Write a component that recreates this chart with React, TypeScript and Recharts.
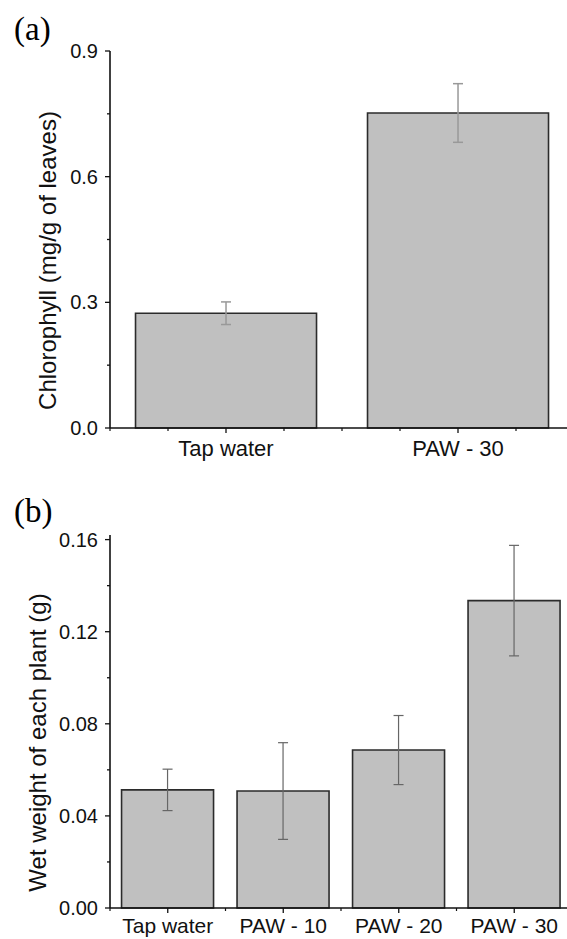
import { Bar, BarChart, ErrorBar, Label, XAxis, YAxis } from 'recharts'

// panel (a) – chlorophyll
const categoriesA = ['Tap water', 'PAW - 30']
const chlorophyll = [0.274, 0.752]
const chlorophyllErr = [0.027, 0.07]
const ticksA = [0, 0.15, 0.3, 0.45, 0.6, 0.75, 0.9]
const majorTicksA = [0, 0.3, 0.6, 0.9]

// panel (b) – wet weight
const categoriesB = ['Tap water', 'PAW - 10', 'PAW - 20', 'PAW - 30']
const wetWeight = [0.0513, 0.0508, 0.0686, 0.1335]
const wetWeightErr = [0.009, 0.021, 0.015, 0.024]
const ticksB = [0, 0.02, 0.04, 0.06, 0.08, 0.1, 0.12, 0.14, 0.16]
const majorTicksB = [0, 0.04, 0.08, 0.12, 0.16]

const dataA = categoriesA.map((name, i) => ({ name, value: chlorophyll[i], err: chlorophyllErr[i] }))
const dataB = categoriesB.map((name, i) => ({ name, value: wetWeight[i], err: wetWeightErr[i] }))

const FONT = '"Liberation Sans", Arial, sans-serif'
const INK = '#111'

// plot widths, so the minor x ticks can sit between the category centres
const PLOT_W_A = 464
const PLOT_W_B = 462

function ValueTick({ x, y, payload, majors, digits }: any) {
  const major = majors.some((m: number) => Math.abs(m - payload.value) < 1e-9)
  return (
    <g>
      <line x1={x} x2={x - (major ? 5 : 3)} y1={y} y2={y} stroke={INK} strokeWidth={1.3} />
      {major && (
        <text x={x - 12} y={y} textAnchor='end' dominantBaseline='central' fontSize={20} fontFamily={FONT} fill={INK}>
          {payload.value.toFixed(digits)}
        </text>
      )}
    </g>
  )
}

function CategoryTick({ x, y, payload, band, quarters, labelY, size }: any) {
  const minors = quarters ? [-band / 2, -band / 4, band / 4] : [-band / 2]
  return (
    <g>
      <line x1={x} x2={x} y1={y} y2={y + 5} stroke={INK} strokeWidth={1.3} />
      {minors.map((o) => (
        <line key={o} x1={x + o} x2={x + o} y1={y} y2={y + 3} stroke={INK} strokeWidth={1.2} />
      ))}
      <text x={x} y={y + labelY} textAnchor='middle' fontSize={size} fontFamily={FONT} fill={INK}>
        {payload.value}
      </text>
    </g>
  )
}

const axisTitle = (text: string, dx: number) => (props: any) => {
  const vb = props.viewBox || { x: 0, y: 0, height: 0 }
  const cx = vb.x + dx
  const cy = vb.y + vb.height / 2 + 21
  return (
    <text
      x={cx}
      y={cy}
      transform={`rotate(-90 ${cx} ${cy})`}
      textAnchor='middle'
      dominantBaseline='central'
      fontSize={24}
      fontFamily={FONT}
      fill={INK}
    >
      {text}
    </text>
  )
}

const panelLabel: React.CSSProperties = {
  position: 'absolute',
  left: 14,
  fontFamily: '"Liberation Serif", "Times New Roman", serif',
  fontSize: 33,
  lineHeight: '33px',
  color: '#000',
}

export default function App() {
  return (
    <div style={{ position: 'absolute', left: 0, top: 0, width: 567, height: 939, overflow: 'hidden', background: '#fff' }}>
      <div style={{ ...panelLabel, top: 13 }}>(a)</div>
      <div style={{ ...panelLabel, top: 495 }}>(b)</div>

      <div style={{ position: 'absolute', left: 0, top: 0 }}>
        <BarChart width={575} height={470} data={dataA} margin={{ top: 51, right: 1, left: 0, bottom: 2 }} barCategoryGap='11%'>
          <XAxis
            dataKey='name'
            height={40}
            interval={0}
            tickSize={0}
            tickMargin={0}
            axisLine={{ stroke: INK, strokeWidth: 1.6 }}
            tick={<CategoryTick band={PLOT_W_A / categoriesA.length} quarters labelY={28} size={22} />}
          />
          <YAxis
            width={110}
            domain={[0, 0.9]}
            ticks={ticksA}
            interval={0}
            tickSize={0}
            tickMargin={0}
            axisLine={{ stroke: INK, strokeWidth: 1.6 }}
            tick={<ValueTick majors={majorTicksA} digits={1} />}
          >
            <Label content={axisTitle('Chlorophyll (mg/g of leaves)', 47)} />
          </YAxis>
          <Bar dataKey='value' fill='#c0c0c0' stroke='#2b2b2b' strokeWidth={1.6} isAnimationActive={false}>
            <ErrorBar dataKey='err' width={5} strokeWidth={1.5} stroke='#999' direction='y' />
          </Bar>
        </BarChart>
      </div>

      <div style={{ position: 'absolute', left: 0, top: 470 }}>
        <BarChart width={573} height={469} data={dataB} margin={{ top: 65, right: 1, left: 0, bottom: 1 }} barCategoryGap='10%'>
          <XAxis
            dataKey='name'
            height={30}
            interval={0}
            tickSize={0}
            tickMargin={0}
            axisLine={{ stroke: INK, strokeWidth: 1.6 }}
            tick={<CategoryTick band={PLOT_W_B / categoriesB.length} labelY={25} size={21} />}
          />
          <YAxis
            width={110}
            domain={[0, 0.162]}
            ticks={ticksB}
            interval={0}
            tickSize={0}
            tickMargin={0}
            axisLine={{ stroke: INK, strokeWidth: 1.6 }}
            tick={<ValueTick majors={majorTicksB} digits={2} />}
          >
            <Label content={axisTitle('Wet weight of each plant (g)', 37)} />
          </YAxis>
          <Bar dataKey='value' fill='#c0c0c0' stroke='#2b2b2b' strokeWidth={1.6} isAnimationActive={false}>
            <ErrorBar dataKey='err' width={5} strokeWidth={1.2} stroke='#666' direction='y' />
          </Bar>
        </BarChart>
      </div>
    </div>
  )
}
